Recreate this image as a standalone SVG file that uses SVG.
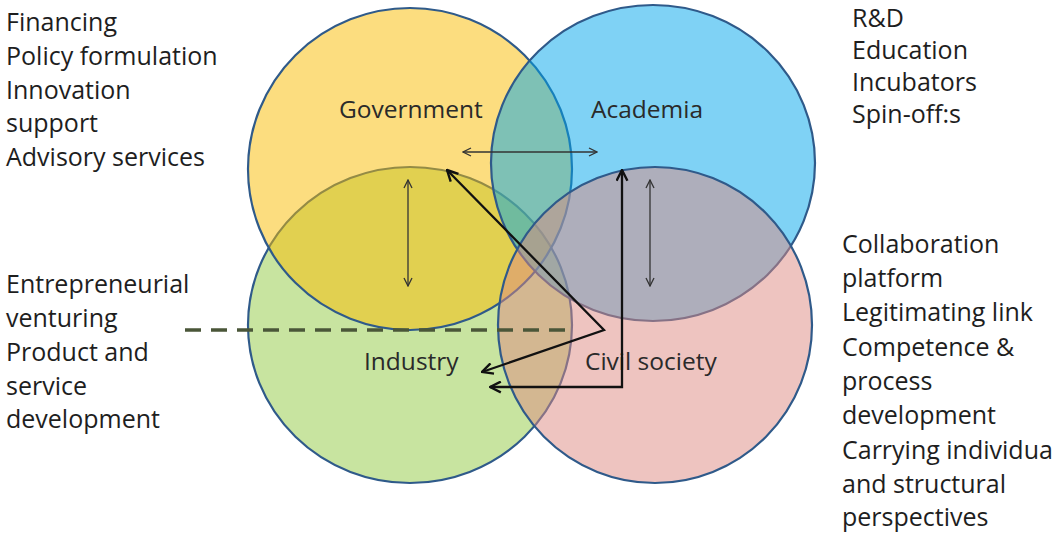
<svg xmlns="http://www.w3.org/2000/svg" width="1057" height="537" viewBox="0 0 1057 537">
<defs>
<style>
.circ{stroke:#2f5a8a;stroke-width:2.2;}
.lbl{font-family:"Open Sans","Liberation Sans",Arial,sans-serif;font-size:24.5px;fill:#2a2a2a;}
.side{font-family:"Open Sans","Liberation Sans",Arial,sans-serif;font-size:25px;fill:#1e1e1e;}
.thin{fill:none;stroke:#333;stroke-width:1.3;}
.thick{fill:none;stroke:#111;stroke-width:2.3;}
</style>
<marker id="ah" viewBox="0 0 10 10" refX="9" refY="5" markerWidth="10" markerHeight="10" markerUnits="userSpaceOnUse" orient="auto-start-reverse">
<path d="M1,1 L9,5 L1,9" fill="none" stroke="#333" stroke-width="1.3"/>
</marker>
<marker id="ahk" viewBox="0 0 12 12" refX="11" refY="6" markerWidth="13" markerHeight="13" markerUnits="userSpaceOnUse" orient="auto-start-reverse">
<path d="M1,1 L11,6 L1,11" fill="none" stroke="#111" stroke-width="2.2"/>
</marker>
</defs>
<rect width="1057" height="537" fill="#ffffff"/>
<g id="industry">
<ellipse class="circ" cx="410" cy="325" rx="162" ry="158" fill="#91c941" fill-opacity="0.5"/>
<text class="lbl" x="364" y="370">Industry</text>
</g>
<g id="government">
<ellipse class="circ" cx="410" cy="169" rx="162" ry="161" fill="#f9bb00" fill-opacity="0.5"/>
<text class="lbl" x="339" y="118">Government</text>
</g>
<g id="academia">
<ellipse class="circ" cx="653" cy="163" rx="162" ry="158" fill="#00a5eb" fill-opacity="0.5"/>
<text class="lbl" x="591" y="118">Academia</text>
</g>
<g id="civil-society">
<ellipse class="circ" cx="655" cy="325" rx="157" ry="158" fill="#dd8981" fill-opacity="0.5"/>
<text class="lbl" x="585" y="370">Civil society</text>
</g>
<g id="connectors">
<line x1="185" y1="330" x2="570" y2="330" stroke="#4a5638" stroke-width="3.5" stroke-dasharray="16,10"/>
<line class="thin" x1="463" y1="152" x2="597" y2="152" marker-start="url(#ah)" marker-end="url(#ah)"/>
<line class="thin" x1="408" y1="180" x2="408" y2="286" marker-start="url(#ah)" marker-end="url(#ah)"/>
<line class="thin" x1="650" y1="180" x2="650" y2="286" marker-start="url(#ah)" marker-end="url(#ah)"/>
<polyline class="thick" points="447,170 604,330 482,372" marker-start="url(#ahk)" marker-end="url(#ahk)"/>
<polyline class="thick" points="622,170 622,387 490,387" marker-start="url(#ahk)" marker-end="url(#ahk)"/>
</g>
<g id="government-roles">
<text class="side" x="6" y="31">Financing</text>
<text class="side" x="6" y="65">Policy formulation</text>
<text class="side" x="6" y="99">Innovation</text>
<text class="side" x="6" y="132">support</text>
<text class="side" x="6" y="166">Advisory services</text>
</g>
<g id="academia-roles">
<text class="side" x="852" y="27">R&amp;D</text>
<text class="side" x="852" y="59">Education</text>
<text class="side" x="852" y="91">Incubators</text>
<text class="side" x="852" y="123">Spin-off:s</text>
</g>
<g id="industry-roles">
<text class="side" x="6" y="293">Entrepreneurial</text>
<text class="side" x="6" y="327">venturing</text>
<text class="side" x="6" y="361">Product and</text>
<text class="side" x="6" y="395">service</text>
<text class="side" x="6" y="428">development</text>
</g>
<g id="civil-society-roles">
<text class="side" x="842" y="253">Collaboration</text>
<text class="side" x="842" y="287">platform</text>
<text class="side" x="842" y="321">Legitimating link</text>
<text class="side" x="842" y="356">Competence &amp;</text>
<text class="side" x="842" y="390">process</text>
<text class="side" x="842" y="424">development</text>
<text class="side" x="842" y="459">Carrying individua</text>
<text class="side" x="842" y="493">and structural</text>
<text class="side" x="842" y="526">perspectives</text>
</g>
</svg>
